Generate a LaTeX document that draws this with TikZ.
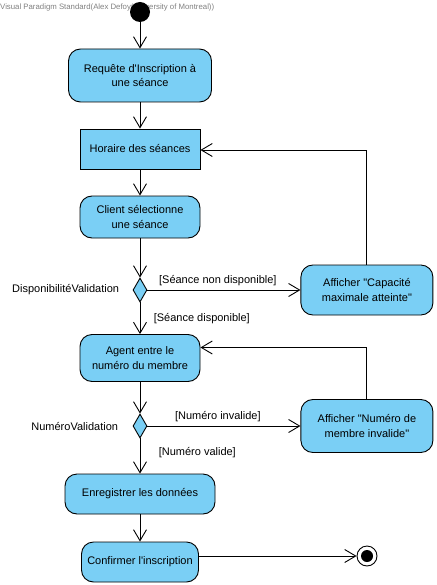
\documentclass[tikz,border=0pt]{standalone}
\usepackage{fontspec}
\newfontfamily\vpfont{Liberation Sans}
\usepackage{tikz}
\usetikzlibrary{arrows.meta, positioning, shapes.geometric}
\definecolor{actblue}{RGB}{122,207,245}

\begin{document}
\begin{tikzpicture}[x=1pt, y=-1pt, node distance=68pt,
    font=\vpfont\fontsize{11}{14.5}\selectfont,
    action/.style={draw, fill=actblue, rounded corners=12pt, align=center, inner sep=2pt, line width=0.9pt},
    decision/.style={draw, fill=actblue, diamond, minimum width=14pt, minimum height=24pt, inner sep=0pt, line width=0.9pt},
    flow/.style={-{Straight Barb[length=11pt, width=13pt]}, line width=0.9pt}]
    \useasboundingbox (0,0) rectangle (436,585);
    \node[anchor=west, text=gray, font=\vpfont\fontsize{7.8}{9}\selectfont, inner sep=0pt] (vp_mark) at (0,7) {Visual Paradigm Standard(Alex Defoy(University of Montreal))};
    \node[circle, fill=black, minimum size=20pt, inner sep=0pt] (start) at (140,12) {};
    \node (req_seance) [action, minimum width=143pt, minimum height=53pt, below of=start, yshift=4.5pt] {Requête d'Inscription à\\une séance};
    \node (horaire) [action, rounded corners=0pt, minimum width=120pt, minimum height=40pt, below of=req_seance, yshift=-5.5pt] {Horaire des séances};
    \node (client_sel) [action, minimum width=120pt, minimum height=42pt, below of=horaire] {Client sélectionne\\une séance};
    \node (dispo_dec) [decision, below of=client_sel, yshift=-5pt, label={[label distance=10pt]left:DisponibilitéValidation}] {};
    \node (agent) [action, minimum width=120pt, minimum height=47pt, below of=dispo_dec] {Agent entre le\\numéro du membre};
    \node (num_dec) [decision, below of=agent, label={[label distance=11pt]left:NuméroValidation}] {};
    \node (enreg) [action, minimum width=150pt, minimum height=40pt, below of=num_dec] {Enregistrer les données};
    \node (confirm) [action, minimum width=117pt, minimum height=40pt, below of=enreg] {Confirmer l'inscription};
    \node (cap_msg) [action, minimum width=132pt, minimum height=50pt, right=153pt of dispo_dec] {Afficher "Capacité\\maximale atteinte"};
    \node (num_msg) [action, minimum width=132pt, minimum height=53pt, right=153pt of num_dec] {Afficher "Numéro de\\membre invalide"};
    \node[circle, draw, line width=0.9pt, minimum size=20pt, inner sep=0pt,
        path picture={\fill (path picture bounding box.center) circle (6pt);}] (end_node) at (367,556) {};

    \draw[flow] (start) -- (req_seance);
    \draw[flow] (req_seance) -- (horaire);
    \draw[flow] (horaire) -- (client_sel);
    \draw[flow] (client_sel) -- (dispo_dec);
    \draw[flow] (dispo_dec) -- node[above, pos=0.46] {[Séance non disponible]} (cap_msg);
    \draw[flow] (dispo_dec) -- node[right, xshift=10pt] {[Séance disponible]} (agent);
    \draw[flow] (cap_msg.north) |- ([yshift=-1pt]horaire.east);
    \draw[flow] (agent) -- (num_dec);
    \draw[flow] (num_dec) -- node[above, pos=0.46] {[Numéro invalide]} (num_msg);
    \draw[flow] (num_dec) -- node[right, xshift=15pt, pos=0.4] {[Numéro valide]} (enreg);
    \draw[flow] (num_msg.north) |- ([yshift=10.5pt]agent.east);
    \draw[flow] (enreg) -- (confirm);
    \draw[flow] (confirm.east |- end_node) -- (end_node);
\end{tikzpicture}
\end{document}
